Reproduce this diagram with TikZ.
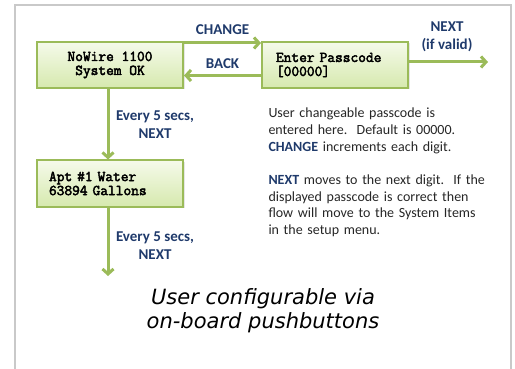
\documentclass[tikz,border=0pt]{standalone}
\usepackage{fontspec}
\setmainfont{Carlito}
\newfontfamily\screenfont{Latin Modern Mono}[FakeBold=3]
\newfontfamily\captionfont{DejaVu Sans}
\usepackage{xcolor}
\usepackage{tikz}
\usetikzlibrary{positioning, arrows.meta, shadows}
\definecolor{boxgreen}{HTML}{9BBB59}
\definecolor{boxlight}{HTML}{F5FAEA}
\definecolor{boxdark}{HTML}{D6E9AE}
\definecolor{labelblue}{HTML}{1F3A6B}
\definecolor{framegray}{HTML}{C9C9C9}

\begin{document}
\begin{tikzpicture}[x=1pt, y=-1pt, line width=3pt]
				\tikzset{arrow/.style={boxgreen, -{Straight Barb[length=5pt, width=11pt]}}}
				\tikzset{screen/.style={draw=boxgreen, line width=2pt, top color=boxlight, bottom color=boxdark, minimum width=146pt, minimum height=46pt, inner sep=0pt, font=\screenfont\fontsize{15}{14}\selectfont, drop shadow={opacity=0.2, shadow xshift=1.5pt, shadow yshift=-1.5pt}}}
				\tikzset{flowtext/.style={labelblue, align=center, font=\bfseries\fontsize{15}{18.5}\selectfont}}
				
				\useasboundingbox (0,0) rectangle (515,369);
				\draw[framegray, line width=2pt] (14.5,380) -- (14.5,5) -- (511,5) -- (511,380);
				
				\node (sysok) [screen, align=center] at (110,65) {NoWire 1100\\System OK};
				\node (pass) [screen, align=left, text width=118pt] at (335,65) {Enter Passcode\\{}[00000]};
				\node (water) [screen, align=left, text width=122pt] at (110,183.5) {Apt \#1 Water\\63894 Gallons};
				\coordinate (passout) at (488,62);
				\coordinate (waterout) at (108,276);
				
				\draw [arrow] ([yshift=-2pt]sysok.north east) -- node[flowtext, above=4pt]{CHANGE} ([yshift=-2pt]pass.north west);
				\draw [arrow] ([yshift=-10.5pt]pass.west) -- node[flowtext, above=2pt]{BACK} ([yshift=-10.5pt]sysok.east);
				\draw [arrow] ([yshift=3pt]pass.east) -- (passout);
				\node (nextlbl) [flowtext] at (447,37) {NEXT\\(if valid)};
				\draw [arrow] ([xshift=-2pt]sysok.south) -- ([xshift=-2pt]water.north);
				\node (every1) [flowtext] at (155,124.5) {Every 5 secs,\\NEXT};
				\draw [arrow] ([xshift=-2pt]water.south) -- (waterout);
				\node (every2) [flowtext] at (155,245.5) {Every 5 secs,\\NEXT};
				
				\node (note) [anchor=north west, inner sep=0pt, text width=240pt, align=left, text=black!85, font=\fontsize{14}{16.7}\selectfont] at (267,106.5) {User changeable passcode is\\entered here.\ \ Default is 00000.\\\textcolor{labelblue}{\bfseries CHANGE} increments each digit.\\[16.7pt]\textcolor{labelblue}{\bfseries NEXT} moves to the next digit.\ \ If the\\displayed passcode is correct then\\flow will move to the System Items\\in the setup menu.};
				\node (caption) [align=center, font=\captionfont\itshape\fontsize{21}{24}\selectfont] at (263,311) {User configurable via\\on-board pushbuttons};
			\end{tikzpicture}
\end{document}
